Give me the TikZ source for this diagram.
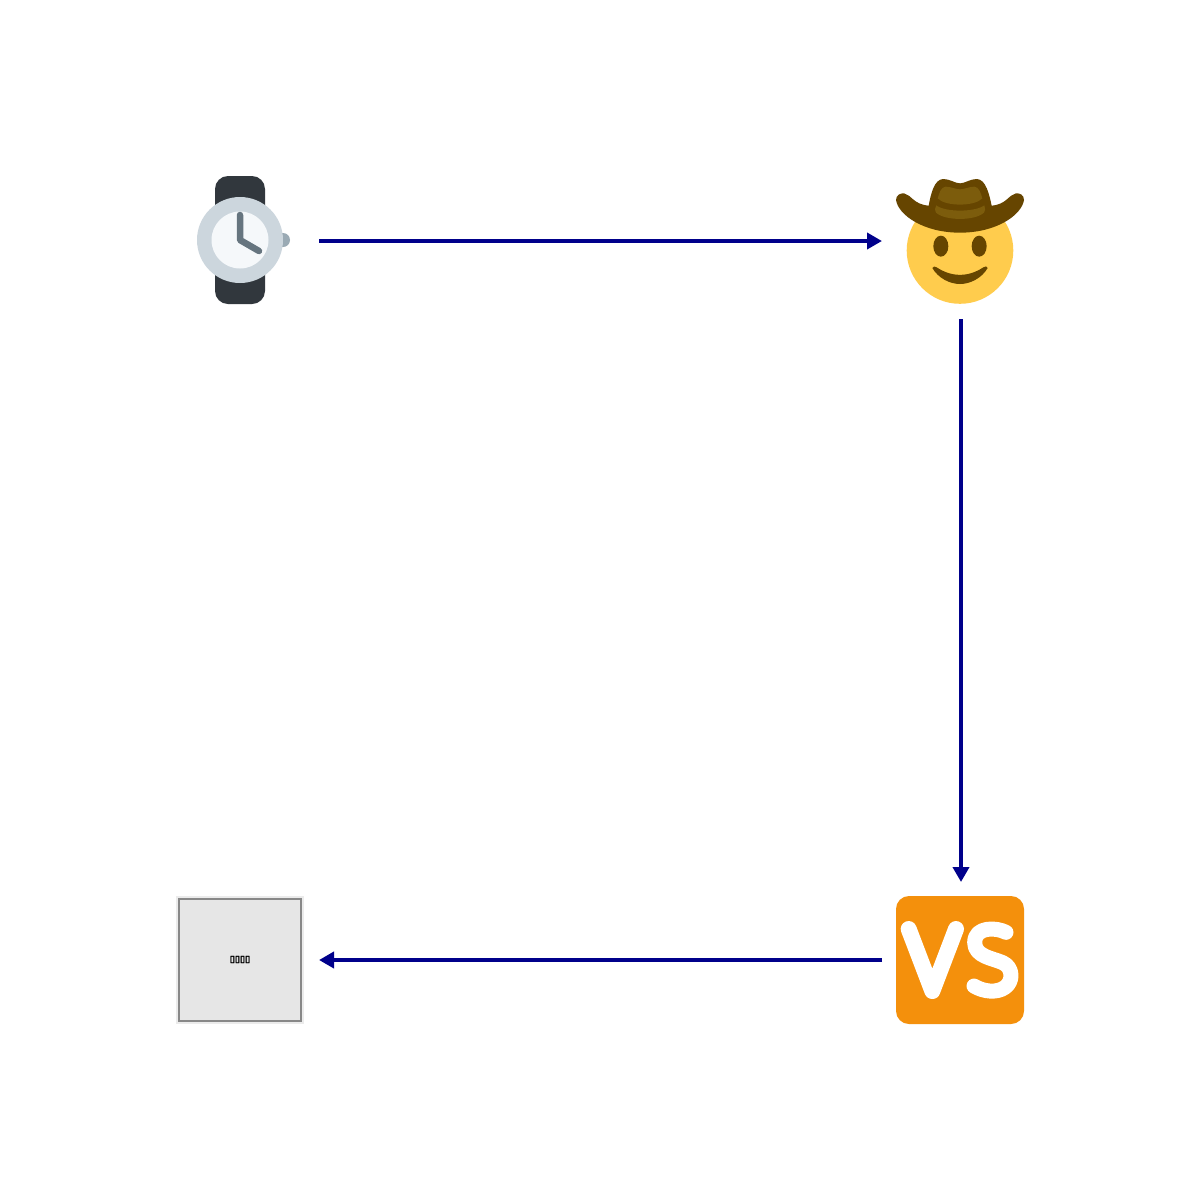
\documentclass[tikz,border=0pt]{standalone}
\usepackage{fontspec}
\newfontfamily\symfont[FakeBold=4]{DejaVu Sans}
\usetikzlibrary{arrows.meta}
\definecolor{linkblue}{HTML}{00008B}
\definecolor{strap}{HTML}{31373D}
\definecolor{bezel}{HTML}{CCD6DD}
\definecolor{dial}{HTML}{F5F8FA}
\definecolor{crown}{HTML}{9AAAB4}
\definecolor{hands}{HTML}{66757F}
\definecolor{face}{HTML}{FFCC4D}
\definecolor{hatdark}{HTML}{664500}
\definecolor{hatlight}{HTML}{7C5C0C}
\definecolor{vsorange}{HTML}{F4900C}
\definecolor{boxfill}{HTML}{E6E6E6}
\definecolor{boxline}{HTML}{888888}
\definecolor{boxhalo}{HTML}{EBEBEB}
\tikzset{
  slot/.style={minimum size=64pt,inner sep=0pt,outer sep=0pt},
  link/.style={draw=linkblue,line width=2pt,-{Triangle[length=7.5pt,width=8pt]},shorten <=7.5pt,shorten >=7pt},
  linkrev/.style={draw=linkblue,line width=2pt,-{Triangle[length=7.5pt,width=8pt]},shorten <=7pt,shorten >=7.5pt}
}
\begin{document}
\begin{tikzpicture}[x=0.5pt,y=-0.5pt]
\useasboundingbox (0,0) rectangle (1200,1200);
\fill[white] (0,0) rectangle (1200,1200);
% slots
\node[slot] (watch) at (240,240) {};
\node[slot] (cowboy) at (960,240) {};
\node[slot] (versus) at (960,960) {};
\node[slot,fill=boxhalo] (tofu) at (240,960) {};
% tofu box
\draw[draw=boxline,fill=boxfill,line width=1pt] (179,899) rectangle (301,1021);
\node[font=\symfont\fontsize{4.6}{5}\selectfont,inner sep=0pt] at (240,959.5) {▯▯▯▯};
% watch
\fill[strap,rounded corners=6.5pt] (215,176) rectangle (265,304);
\fill[crown] (283,240) circle [radius=7];
\fill[bezel] (240,240) circle [radius=43];
\fill[dial] (240,240) circle [radius=28.5];
\draw[hands,line width=3.25pt,line cap=round,line join=round] (240,215) -- (240,240) -- (259,251);
% cowboy
\fill[face] (960,250.5) circle [radius=53.3];
\begin{scope}[shift={(880,165)},scale=1/3]
\fill[hatdark] (182.5,243.5) ellipse [x radius=22.5,y radius=31.5];
\fill[hatdark] (297.5,243.5) ellipse [x radius=22.5,y radius=31.5];
\fill[hatdark] (157,309) .. controls (160,303) and (165,304) .. (170,307)
  .. controls (215,337) and (265,337) .. (310,307)
  .. controls (316,303) and (322,303) .. (323,309)
  .. controls (305,340) and (270,357) .. (240,357)
  .. controls (210,357) and (175,340) .. (157,309) -- cycle;
\fill[hatdark] (48,105) .. controls (48,90) and (62,84) .. (72,85)
  .. controls (95,90) and (100,118) .. (146,122)
  .. controls (152,90) and (162,42) .. (190,42)
  .. controls (210,42) and (225,55) .. (240,55)
  .. controls (255,55) and (270,42) .. (290,42)
  .. controls (318,42) and (328,90) .. (335,122)
  .. controls (380,118) and (385,90) .. (408,85)
  .. controls (420,84) and (432,90) .. (432,105)
  .. controls (425,150) and (350,203) .. (240,203)
  .. controls (130,203) and (55,150) .. (48,105) -- cycle;
\fill[hatlight] (173,100) .. controls (178,85) and (182,66) .. (197,65)
  .. controls (212,65) and (228,73) .. (240,73)
  .. controls (252,73) and (268,65) .. (283,65)
  .. controls (298,66) and (302,85) .. (307,100)
  .. controls (285,125) and (195,125) .. (173,100) -- cycle;
\fill[hatlight] (169,121) .. controls (195,142) and (285,142) .. (313,121)
  .. controls (317,130) and (316,138) .. (312,143)
  .. controls (285,168) and (195,168) .. (168,143)
  .. controls (163,137) and (164,128) .. (169,121) -- cycle;
\end{scope}
% VS
\fill[vsorange,rounded corners=6.5pt] (896,896) rectangle (1024,1024);
\begin{scope}[shift={(880,850)},scale=1/3]
\draw[white,line width=8pt,line cap=round,line join=round] (86,237) -- (157,423) -- (228,237);
\draw[white,line width=7.5pt,line cap=round,line join=round]
  (378,247) .. controls (350,232) and (284,228) .. (284,278)
  .. controls (284,320) and (340,325) .. (368,338)
  .. controls (400,352) and (400,395) .. (375,412)
  .. controls (350,430) and (310,425) .. (282,408);
\end{scope}
% connectors
\draw[link] ([yshift=-.5pt]watch.east) -- ([yshift=-.5pt]cowboy.west);
\draw[link] ([xshift=.5pt]cowboy.south) -- ([xshift=.5pt]versus.north);
\draw[linkrev] (versus.west) -- (tofu.east);
\end{tikzpicture}
\end{document}
